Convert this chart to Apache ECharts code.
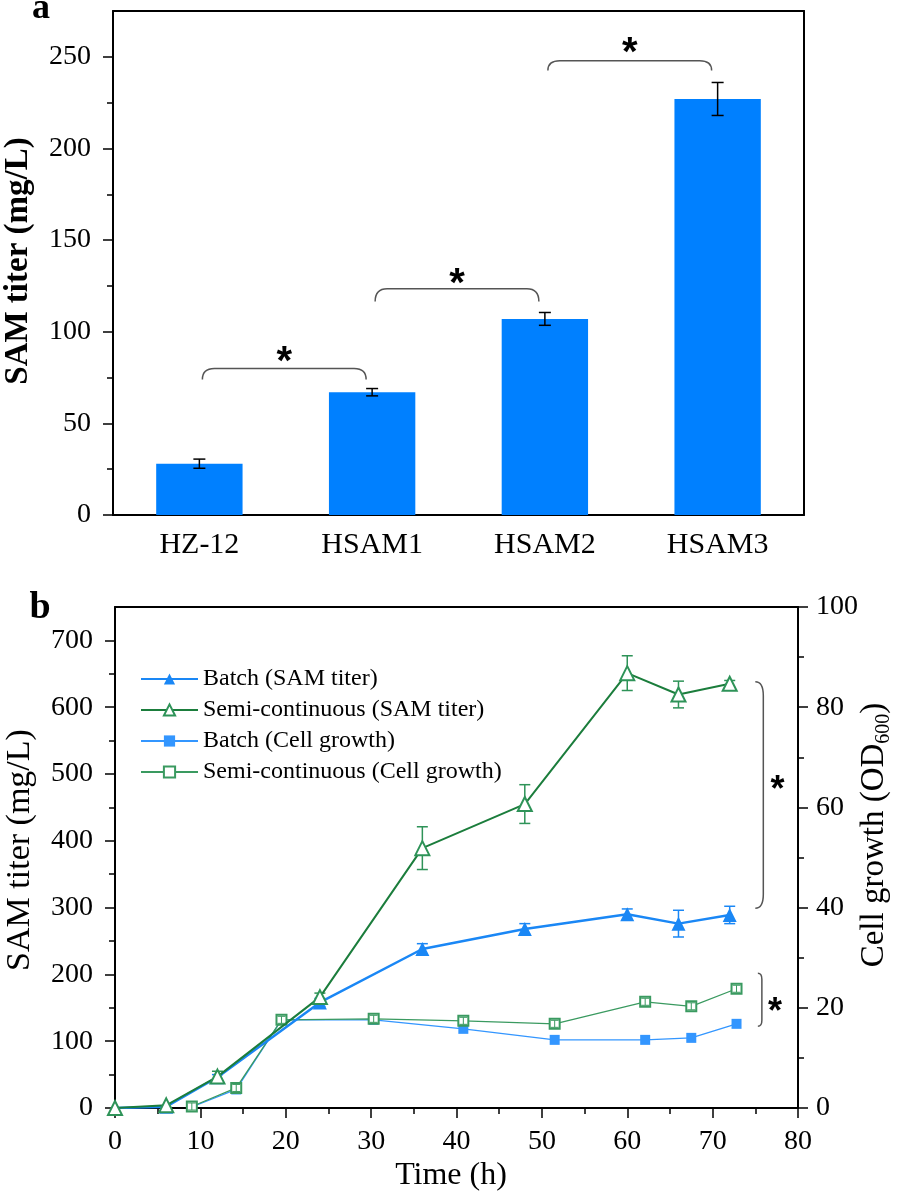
<!DOCTYPE html>
<html><head><meta charset="utf-8">
<style>html,body{margin:0;padding:0;background:#fff}#c{width:898px;height:1195px}</style>
<script src="https://cdn.jsdelivr.net/npm/echarts@6/dist/echarts.min.js"></script>
</head><body><div id="c"></div>
<script>
// ---------- Panel a data ----------
const strains = ['HZ-12', 'HSAM1', 'HSAM2', 'HSAM3'];
const strainTiter = [28, 67, 107, 227];
const strainErr = [2.5, 2, 3.5, 9];
const pairFrom = [0, 1, 2];
const pairTo = [1, 2, 3];
const pairTop = [80, 123.5, 247.8];
const pairEnd = [74, 116.5, 242.5];
const pairStar = [88, 130.5, 256.5];
const aTicks = [0, 50, 100, 150, 200, 250];
const aMinorTicks = [25, 75, 125, 175, 225];

// ---------- Panel b data ----------
const samTime = [0, 6, 12, 24, 36, 48, 60, 66, 72];
const batchSam = [0, 2, 46, 158, 238, 268, 290, 276, 289];
const batchSamErr = [0, 0, 4, 6, 8, 8, 8, 20, 13];
const semiSam = [0, 4, 47, 166, 389, 455, 651, 619, 635];
const semiSamErr = [0, 0, 8, 6, 32, 29, 26, 20, 5];
const cellTime = [9, 14.2, 19.5, 30.3, 40.8, 51.5, 62.1, 67.5, 72.8];
const batchCell = [0.2, 3.7, 17.6, 17.6, 15.8, 13.6, 13.6, 14.0, 16.8];
const semiCell = [0.3, 4.0, 17.6, 17.8, 17.4, 16.8, 21.2, 20.3, 23.8];
const semiCellErr = [0.7, 0.7, 0.7, 0.7, 0.7, 0.7, 0.7, 0.7, 0.7];
const bLeftTicks = [0, 100, 200, 300, 400, 500, 600, 700];
const bLeftMinorTicks = [50, 150, 250, 350, 450, 550, 650];
const sigSamBracket = [75, 638, 299, 77.6, 487];   // time, top, bottom, star time, star value (left axis)
const sigCellBracket = [75.3, 26.9, 16.3, 77.3, 20.6]; // right axis

const SERIF = "'Liberation Serif','Times New Roman',serif";
const BLUE = '#0080FF';
const BLUE_LINE = '#1A87F5';
const BLUE_CELL = '#3396FF';
const GREEN = '#1B7D3C';
const GREEN_ERR = '#2E9358';
const GREEN_CELL = '#3A9A60';
const GREY = '#555';

function pairs(xs, ys) { return xs.map((x, i) => [x, ys[i]]); }
function errData(xs, ys, es) {
  const out = [];
  xs.forEach((x, i) => { if (es[i] > 0) out.push([x, ys[i] - es[i], ys[i] + es[i]]); });
  return out;
}
function errRender(color, capW, lw) {
  return function (params, api) {
    const x = api.value(0);
    const a = api.coord([x, api.value(2)]);
    const b = api.coord([x, api.value(1)]);
    const st = { stroke: color, lineWidth: lw, fill: null };
    return { type: 'group', children: [
      { type: 'line', shape: { x1: a[0], y1: a[1], x2: b[0], y2: b[1] }, style: st },
      { type: 'line', shape: { x1: a[0] - capW / 2, y1: a[1], x2: a[0] + capW / 2, y2: a[1] }, style: st },
      { type: 'line', shape: { x1: b[0] - capW / 2, y1: b[1], x2: b[0] + capW / 2, y2: b[1] }, style: st }
    ]};
  };
}
const axisBlack = { color: '#000', width: 2 };
const tickBlack = { color: '#000', width: 1.5 };

const chart = echarts.init(document.getElementById('c'), null, { renderer: 'canvas' });
const option = {
  animation: false,
  backgroundColor: '#fff',
  grid: [
    { left: 113, top: 11, right: 94, bottom: 680 },
    { left: 115, top: 607, right: 100, bottom: 87 }
  ],
  legend: {
    left: 140, top: 666, orient: 'vertical', padding: 0,
    itemWidth: 57, itemHeight: 14, itemGap: 5, selectedMode: false,
    textStyle: { fontFamily: SERIF, fontSize: 24, color: '#000', lineHeight: 26 },
    data: ['Batch (SAM titer)', 'Semi-continuous (SAM titer)', 'Batch (Cell growth)', 'Semi-continuous (Cell growth)']
  },
  xAxis: [
    { gridIndex: 0, type: 'category', data: strains, position: 'bottom',
      axisLine: { onZero: false, lineStyle: axisBlack },
      axisTick: { alignWithLabel: true, length: 10, lineStyle: tickBlack },
      axisLabel: { fontFamily: SERIF, fontSize: 30, color: '#000', margin: 15 },
      splitLine: { show: false } },
    { gridIndex: 0, type: 'category', data: strains, position: 'bottom',
      axisLine: { show: false, onZero: false },
      axisTick: { length: 6, lineStyle: tickBlack },
      axisLabel: { show: false }, splitLine: { show: false } },
    { gridIndex: 0, type: 'category', data: strains, position: 'top',
      axisLine: { onZero: false, lineStyle: axisBlack },
      axisTick: { show: false }, axisLabel: { show: false }, splitLine: { show: false } },
    { gridIndex: 1, type: 'value', min: 0, max: 80, interval: 10, position: 'bottom',
      axisLine: { show: true, onZero: false, lineStyle: axisBlack },
      axisTick: { show: true, length: 10, lineStyle: tickBlack },
      minorTick: { show: true, splitNumber: 2, length: 6, lineStyle: tickBlack },
      axisLabel: { fontFamily: SERIF, fontSize: 28, color: '#000', margin: 20 },
      splitLine: { show: false }, minorSplitLine: { show: false } },
    { gridIndex: 1, type: 'value', min: 0, max: 80, position: 'top',
      axisLine: { show: true, onZero: false, lineStyle: axisBlack },
      axisTick: { show: false }, axisLabel: { show: false }, splitLine: { show: false } }
  ],
  yAxis: [
    { gridIndex: 0, type: 'value', min: 0, max: 275, position: 'left',
      axisLine: { show: true, onZero: false, lineStyle: axisBlack },
      axisTick: { show: true, length: 10, lineStyle: tickBlack, customValues: aTicks },
      axisLabel: { fontFamily: SERIF, fontSize: 28, color: '#000', margin: 22, customValues: aTicks },
      splitLine: { show: false } },
    { gridIndex: 0, type: 'value', min: 0, max: 275, position: 'left',
      axisLine: { show: false, onZero: false },
      axisTick: { show: true, length: 6, lineStyle: tickBlack, customValues: aMinorTicks },
      axisLabel: { show: false }, splitLine: { show: false } },
    { gridIndex: 0, type: 'value', min: 0, max: 275, position: 'right',
      axisLine: { show: true, onZero: false, lineStyle: axisBlack },
      axisTick: { show: false }, axisLabel: { show: false }, splitLine: { show: false } },
    { gridIndex: 1, type: 'value', min: 0, max: 750, position: 'left',
      axisLine: { show: true, onZero: false, lineStyle: axisBlack },
      axisTick: { show: true, length: 10, lineStyle: tickBlack, customValues: bLeftTicks },
      axisLabel: { fontFamily: SERIF, fontSize: 28, color: '#000', margin: 22, customValues: bLeftTicks },
      splitLine: { show: false } },
    { gridIndex: 1, type: 'value', min: 0, max: 750, position: 'left',
      axisLine: { show: false, onZero: false },
      axisTick: { show: true, length: 6, lineStyle: tickBlack, customValues: bLeftMinorTicks },
      axisLabel: { show: false }, splitLine: { show: false } },
    { gridIndex: 1, type: 'value', min: 0, max: 100, interval: 20, position: 'right',
      axisLine: { show: true, onZero: false, lineStyle: axisBlack },
      axisTick: { show: true, length: 10, lineStyle: tickBlack },
      minorTick: { show: true, splitNumber: 2, length: 6, lineStyle: tickBlack },
      axisLabel: { fontFamily: SERIF, fontSize: 28, color: '#000', margin: 18 },
      splitLine: { show: false }, minorSplitLine: { show: false } }
  ],
  series: [
    // ----- panel a -----
    { name: 'SAM titer', type: 'bar', xAxisIndex: 0, yAxisIndex: 0, data: strainTiter,
      barWidth: '50%', itemStyle: { color: BLUE } },
    { name: 'bar-err', type: 'custom', xAxisIndex: 0, yAxisIndex: 0, z: 5,
      encode: { x: 0, y: [1, 2] },
      data: strains.map((s, i) => [i, strainTiter[i] - strainErr[i], strainTiter[i] + strainErr[i]]),
      renderItem: errRender('#000', 12, 1.5) },
    { name: 'pairs', type: 'custom', xAxisIndex: 0, yAxisIndex: 0, z: 5,
      encode: { x: [0, 1], y: [2, 3, 4] },
      data: pairFrom.map((f, i) => [f, pairTo[i], pairTop[i], pairEnd[i], pairStar[i]]),
      renderItem: function (params, api) {
        const p1 = api.coord([api.value(0), api.value(2)]);
        const p2 = api.coord([api.value(1), api.value(2)]);
        const e = api.coord([api.value(0), api.value(3)]);
        const s = api.coord([api.value(0), api.value(4)]);
        const x1 = p1[0] + 3, x2 = p2[0] - 6, yT = p1[1], yE = e[1], r = 12;
        const d = 'M' + x1 + ',' + yE + ' Q' + x1 + ',' + yT + ' ' + (x1 + r) + ',' + yT +
          ' L' + (x2 - r) + ',' + yT + ' Q' + x2 + ',' + yT + ' ' + x2 + ',' + yE;
        return { type: 'group', children: [
          { type: 'path', shape: { pathData: d }, style: { stroke: GREY, lineWidth: 1.5, fill: null } },
          { type: 'text', x: (x1 + x2) / 2, y: s[1] + 9,
            style: { text: '*', font: "bold 40px 'Liberation Sans', Arial, sans-serif", fill: '#000', align: 'center', verticalAlign: 'middle' } }
        ]};
      } },
    // ----- panel b -----
    { name: 'Batch (Cell growth)', type: 'line', xAxisIndex: 3, yAxisIndex: 5, data: pairs(cellTime, batchCell),
      symbol: 'rect', symbolSize: 10, lineStyle: { color: BLUE_CELL, width: 1.3 },
      itemStyle: { color: BLUE_CELL }, z: 2 },
    { name: 'Semi-continuous (Cell growth)', type: 'line', xAxisIndex: 3, yAxisIndex: 5, data: pairs(cellTime, semiCell),
      symbol: 'emptyRect', symbolSize: 10, lineStyle: { color: GREEN_CELL, width: 1.3 },
      itemStyle: { color: GREEN_CELL, borderColor: GREEN_CELL, borderWidth: 1.5 }, z: 3 },
    { name: 'batch-err', type: 'custom', xAxisIndex: 3, yAxisIndex: 3, z: 3,
      encode: { x: 0, y: [1, 2] }, data: errData(samTime, batchSam, batchSamErr),
      renderItem: errRender(BLUE_LINE, 11, 1.5) },
    { name: 'Batch (SAM titer)', type: 'line', xAxisIndex: 3, yAxisIndex: 3, data: pairs(samTime, batchSam),
      symbol: 'triangle', symbolSize: 14, lineStyle: { color: BLUE_LINE, width: 2.5 },
      itemStyle: { color: BLUE_LINE }, z: 4 },
    { name: 'semi-err', type: 'custom', xAxisIndex: 3, yAxisIndex: 3, z: 4,
      encode: { x: 0, y: [1, 2] }, data: errData(samTime, semiSam, semiSamErr),
      renderItem: errRender(GREEN_ERR, 11, 1.5) },
    { name: 'Semi-continuous (SAM titer)', type: 'line', xAxisIndex: 3, yAxisIndex: 3, data: pairs(samTime, semiSam),
      symbol: 'emptyTriangle', symbolSize: 14, lineStyle: { color: GREEN, width: 2 },
      itemStyle: { color: GREEN_ERR, borderColor: GREEN_ERR, borderWidth: 1.5 }, z: 5 },
    { name: 'cell-err', type: 'custom', xAxisIndex: 3, yAxisIndex: 5, z: 6,
      encode: { x: 0, y: [1, 2] }, data: errData(cellTime, semiCell, semiCellErr),
      renderItem: errRender(GREEN_CELL, 8, 1) },
    { name: 'sig-sam', type: 'custom', xAxisIndex: 3, yAxisIndex: 3, z: 6,
      encode: { x: [0, 3], y: [1, 2, 4] }, data: [sigSamBracket],
      renderItem: function (params, api) {
        const t = api.coord([api.value(0), api.value(1)]);
        const b = api.coord([api.value(0), api.value(2)]);
        const s = api.coord([api.value(3), api.value(4)]);
        const x0 = t[0], w = 8, r = 14;
        const d = 'M' + x0 + ',' + t[1] + ' Q' + (x0 + w) + ',' + t[1] + ' ' + (x0 + w) + ',' + (t[1] + r) +
          ' L' + (x0 + w) + ',' + (b[1] - r) + ' Q' + (x0 + w) + ',' + b[1] + ' ' + x0 + ',' + b[1];
        return { type: 'group', children: [
          { type: 'path', shape: { pathData: d }, style: { stroke: GREY, lineWidth: 1.5, fill: null } },
          { type: 'text', x: s[0], y: s[1] + 8,
            style: { text: '*', font: "bold 36px 'Liberation Sans', Arial, sans-serif", fill: '#000', align: 'center', verticalAlign: 'middle' } }
        ]};
      } },
    { name: 'sig-cell', type: 'custom', xAxisIndex: 3, yAxisIndex: 5, z: 6,
      encode: { x: [0, 3], y: [1, 2, 4] }, data: [sigCellBracket],
      renderItem: function (params, api) {
        const t = api.coord([api.value(0), api.value(1)]);
        const b = api.coord([api.value(0), api.value(2)]);
        const s = api.coord([api.value(3), api.value(4)]);
        const x0 = t[0], w = 4, r = 6;
        const d = 'M' + x0 + ',' + t[1] + ' Q' + (x0 + w) + ',' + t[1] + ' ' + (x0 + w) + ',' + (t[1] + r) +
          ' L' + (x0 + w) + ',' + (b[1] - r) + ' Q' + (x0 + w) + ',' + b[1] + ' ' + x0 + ',' + b[1];
        return { type: 'group', children: [
          { type: 'path', shape: { pathData: d }, style: { stroke: GREY, lineWidth: 1.5, fill: null } },
          { type: 'text', x: s[0], y: s[1] + 8,
            style: { text: '*', font: "bold 36px 'Liberation Sans', Arial, sans-serif", fill: '#000', align: 'center', verticalAlign: 'middle' } }
        ]};
      } }
  ],
  graphic: [
    { type: 'text', x: 41, y: 9, style: { text: 'a', font: 'bold 36px ' + SERIF, fill: '#000', align: 'center', verticalAlign: 'middle' } },
    { type: 'text', x: 40, y: 608, style: { text: 'b', font: 'bold 38px ' + SERIF, fill: '#000', align: 'center', verticalAlign: 'middle' } },
    { type: 'text', x: 18, y: 261, rotation: Math.PI / 2,
      style: { text: 'SAM titer (mg/L)', font: 'bold 33px ' + SERIF, fill: '#000', align: 'center', verticalAlign: 'middle' } },
    { type: 'text', x: 20, y: 850, rotation: Math.PI / 2,
      style: { text: 'SAM titer (mg/L)', font: '34px ' + SERIF, fill: '#000', align: 'center', verticalAlign: 'middle' } },
    { type: 'text', x: 874, y: 835, rotation: Math.PI / 2,
      style: { text: '{a|Cell growth (OD}{s|600}{a|)}', align: 'center', verticalAlign: 'middle',
        rich: { a: { fontFamily: SERIF, fontSize: 33, lineHeight: 40, fill: '#000', verticalAlign: 'middle' },
                s: { fontFamily: SERIF, fontSize: 20, lineHeight: 20, fill: '#000', verticalAlign: 'bottom' } } } },
    { type: 'text', x: 451, y: 1176, style: { text: 'Time (h)', font: '32px ' + SERIF, fill: '#000', align: 'center', verticalAlign: 'middle' } }
  ]
};
chart.setOption(option);
</script>
</body></html>
